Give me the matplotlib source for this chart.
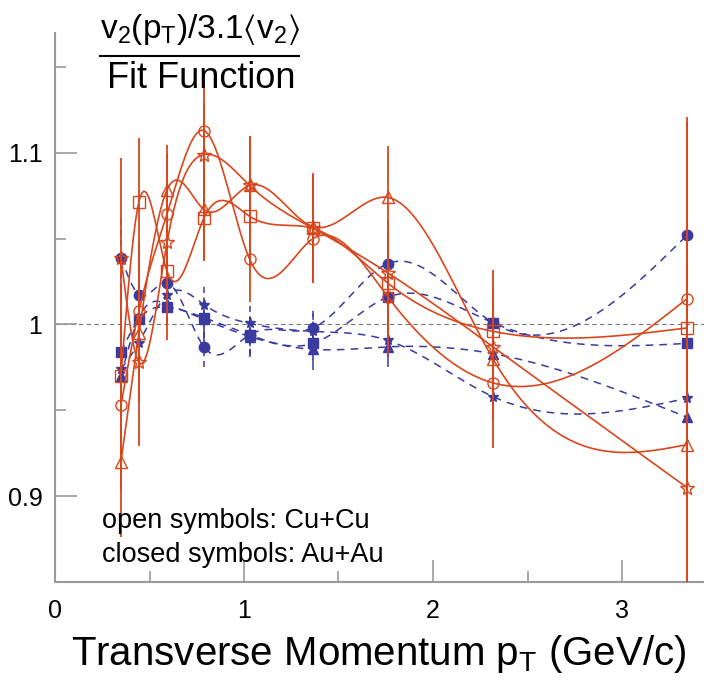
import numpy as np
import matplotlib.pyplot as plt
from matplotlib.ticker import MultipleLocator

plt.rcParams['font.family'] = ['Liberation Sans', 'DejaVu Sans']
plt.rcParams['mathtext.fontset'] = 'custom'
plt.rcParams['mathtext.rm'] = 'Liberation Sans'
plt.rcParams['mathtext.default'] = 'regular'

# pT bin centres (GeV/c)
pt = [0.349, 0.444, 0.593, 0.788, 1.03, 1.365, 1.762, 2.317, 3.344]

# Cu+Cu (open symbols)
cu_circle = [0.953, 1.008, 1.0645, 1.113, 1.038, 1.050, 1.016, 0.966, 1.015]
cu_square = [0.970, 1.0715, 1.031, 1.062, 1.063, 1.056, 1.024, 0.996, 0.998]
cu_triangle = [0.920, 0.995, 1.0785, 1.067, 1.081, 1.057, 1.074, 0.980, 0.930]
cu_star = [1.039, 0.978, 1.048, 1.099, 1.081, 1.056, 1.030, 0.987, 0.905]
cu_circle_err = [0.05, 0.04, 0.035, 0.028, 0.025, 0.026, 0.033, 0.038, 0.106]
cu_square_err = [0.05, 0.037, 0.04, 0.024, 0.03, 0.03, 0.03, 0.036, 0.12]
cu_triangle_err = [0.044, 0.04, 0.026, 0.03, 0.029, 0.03, 0.03, 0.035, 0.15]
cu_star_err = [0.058, 0.049, 0.03, 0.03, 0.029, 0.032, 0.03, 0.035, 0.2]

# Au+Au (closed symbols)
au_circle = [1.039, 1.0174, 1.0244, 0.987, 0.994, 0.998, 1.0355, 1.001, 1.052]
au_square = [0.984, 1.003, 1.010, 1.004, 0.994, 0.989, 1.016, 1.001, 0.989]
au_triangle = [0.970, 1.004, 1.012, 1.003, 0.993, 0.9855, 0.987, 0.983, 0.946]
au_star = [0.974, 0.9895, 1.0174, 1.0116, 1.0006, 0.996, 0.9907, 0.958, 0.957]
au_circle_err = [0.025, 0.012, 0.012, 0.012, 0.012, 0.012, 0.012, 0.013, 0.045]
au_square_err = [0.012, 0.01, 0.01, 0.012, 0.012, 0.012, 0.012, 0.013, 0.045]
au_triangle_err = [0.012, 0.01, 0.01, 0.012, 0.012, 0.012, 0.012, 0.013, 0.045]
au_star_err = [0.012, 0.01, 0.01, 0.012, 0.012, 0.012, 0.012, 0.013, 0.045]

red = '#d9461c'
blue = '#3a3a9f'
grey = '#9a9a9a'


def spline(x, y, num=400):
    # natural cubic spline through the points
    x = np.asarray(x, float)
    y = np.asarray(y, float)
    n = len(x)
    h = np.diff(x)
    A = np.zeros((n, n))
    b = np.zeros(n)
    A[0, 0] = A[-1, -1] = 1
    for i in range(1, n - 1):
        A[i, i - 1] = h[i - 1]
        A[i, i] = 2 * (h[i - 1] + h[i])
        A[i, i + 1] = h[i]
        b[i] = 6 * ((y[i + 1] - y[i]) / h[i] - (y[i] - y[i - 1]) / h[i - 1])
    M = np.linalg.solve(A, b)
    xs = np.linspace(x[0], x[-1], num)
    k = np.clip(np.searchsorted(x, xs) - 1, 0, n - 2)
    t0 = x[k + 1] - xs
    t1 = xs - x[k]
    hk = h[k]
    ys = (M[k] * t0**3 / (6 * hk) + M[k + 1] * t1**3 / (6 * hk)
          + (y[k] / hk - M[k] * hk / 6) * t0
          + (y[k + 1] / hk - M[k + 1] * hk / 6) * t1)
    return xs, ys


fig = plt.figure(figsize=(7.04, 6.87), dpi=100)
ax = fig.add_axes([55 / 704, 1 - 582 / 687, 1 - 55 / 704, (582 - 33) / 687])
ax.set_xlim(0, (704 - 55) / 189)
ax.set_ylim(0.85, 1.1698)

ax.axhline(1.0, color='#777777', lw=0.8, ls=(0, (4, 3)), zorder=1)

au_sets = [(au_circle, au_circle_err, 'o', 7.5),
           (au_square, au_square_err, 's', 7),
           (au_triangle, au_triangle_err, '^', 7),
           (au_star, au_star_err, '*', 8)]
for vals, err, mk, ms in au_sets:
    xs, ys = spline(pt, vals)
    ax.plot(xs, ys, color=blue, lw=1.1, ls=(0, (5, 4)), zorder=2)
    eb = ax.errorbar(pt, vals, yerr=err, fmt=mk, ms=ms, color=blue,
                     mfc=blue, mec=blue, elinewidth=1.1, capsize=0, zorder=3)
    eb[2][0].set_linestyle((0, (4, 3)))

cu_sets = [(cu_circle, cu_circle_err, 'o', 8),
           (cu_square, cu_square_err, 's', 8),
           (cu_triangle, cu_triangle_err, '^', 8),
           (cu_star, cu_star_err, '*', 10)]
for vals, err, mk, ms in cu_sets:
    xs, ys = spline(pt, vals)
    ax.plot(xs, ys, color=red, lw=1.2, zorder=4)
    ax.errorbar(pt, vals, yerr=err, fmt=mk, ms=ms, color=red, mfc='none',
                mec=red, mew=1.0, elinewidth=1.3, capsize=0, zorder=5)

for s in ['top', 'right']:
    ax.spines[s].set_visible(False)
for s in ['left', 'bottom']:
    ax.spines[s].set_color(grey)
    ax.spines[s].set_linewidth(1.5)

ax.xaxis.set_major_locator(MultipleLocator(1))
ax.xaxis.set_minor_locator(MultipleLocator(0.5))
ax.yaxis.set_major_locator(MultipleLocator(0.1))
ax.yaxis.set_minor_locator(MultipleLocator(0.05))
ax.set_yticks([0.9, 1.0, 1.1])
ax.set_yticklabels(['0.9', '1', '1.1'])
ax.tick_params(which='both', direction='in', color=grey, width=1.2,
               labelsize=18, top=False, right=False)
ax.tick_params(which='major', length=16)
ax.tick_params(which='minor', length=8)
ax.tick_params(axis='x', pad=12)
ax.tick_params(axis='y', pad=9)

fig.text(200 / 704, 1 - 38 / 687, r'v$_2$(p$_T$)/3.1$\langle$v$_2$$\rangle$',
         ha='center', va='baseline', fontsize=24)
fig.add_artist(plt.Line2D([100 / 704, 299 / 704], [1 - 56 / 687, 1 - 56 / 687],
                          color='black', lw=1.5))
fig.text(201 / 704, 1 - 88 / 687, 'Fit Function', ha='center',
         va='baseline', fontsize=26)

fig.text(686 / 704, 1 - 665 / 687, r'Transverse Momentum p$_T$ (GeV/c)',
         ha='right', va='baseline', fontsize=29)

fig.text(102 / 704, 1 - 528 / 687, 'open symbols: Cu+Cu', fontsize=19.5,
         va='baseline')
fig.text(102 / 704, 1 - 562 / 687, 'closed symbols: Au+Au', fontsize=19.5,
         va='baseline')

fig.savefig('out.png', dpi=100)
